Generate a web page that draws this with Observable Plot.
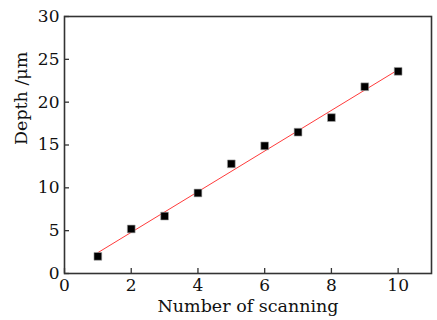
<!DOCTYPE html>
<html><head><meta charset="utf-8">
<script src="https://cdn.jsdelivr.net/npm/d3@7"></script>
<script src="https://cdn.jsdelivr.net/npm/@observablehq/plot@0.6"></script>
<style>body{margin:0;background:#fff;} svg{font-family:"DejaVu Serif","Liberation Serif",serif;}</style>
</head><body><div id="chart"></div>
<script>
const scans = [1, 2, 3, 4, 5, 6, 7, 8, 9, 10];
const depth = [2.0, 5.2, 6.7, 9.4, 12.8, 14.9, 16.5, 18.2, 21.8, 23.6];
const xTicks = [0, 2, 4, 6, 8, 10];
const yTicks = [0, 5, 10, 15, 20, 25, 30];
const xTitle = "Number of scanning";
const yTitle = "Depth /μm";

const data = scans.map((s, i) => ({s, d: depth[i]}));

const chart = Plot.plot({
  width: 437, height: 320,
  marginLeft: 64, marginTop: 16, marginRight: 6, marginBottom: 47,
  style: {fontFamily: "DejaVu Serif, Liberation Serif, serif", fontSize: "17px", color: "#111", background: "#fff"},
  x: {domain: [0, 11]},
  y: {domain: [0, 30]},
  marks: [
    Plot.axisX({ticks: xTicks, tickSize: 0, tickPadding: 5, label: null, fontSize: 17}),
    Plot.axisX({ticks: xTicks, tickSize: -5, tickFormat: () => "", label: null, stroke: "#333", strokeWidth: 1.3}),
    Plot.axisY({ticks: yTicks, tickSize: 0, tickPadding: 5, label: null, fontSize: 17}),
    Plot.axisY({ticks: yTicks, tickSize: -5, tickFormat: () => "", label: null, stroke: "#333", strokeWidth: 1.3}),
    Plot.linearRegressionY(data, {x: "s", y: "d", stroke: "#ff3b3b", strokeWidth: 1, ci: 0}),
    Plot.dot(data, {x: "s", y: "d", symbol: "square", r: 4.4, fill: "#000", stroke: "#aaa", strokeWidth: 0.6}),
    Plot.frame({stroke: "#333", strokeWidth: 1.6}),
    Plot.text([xTitle], {frameAnchor: "bottom", dy: 38, fontSize: 17.5, fill: "#111"}),
    Plot.text([yTitle], {frameAnchor: "left", rotate: -90, dx: -43, fontSize: 17.5, fill: "#111"})
  ]
});
document.getElementById("chart").append(chart);
</script>
</body></html>
